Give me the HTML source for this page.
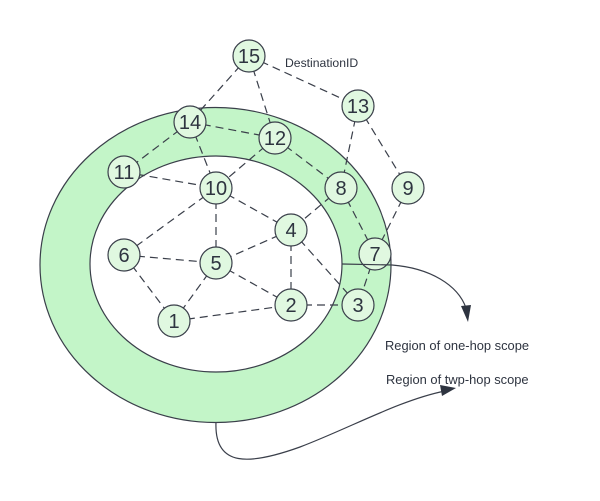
<!DOCTYPE html>
<html><head><meta charset="utf-8"><style>
html,body{margin:0;padding:0;background:#fff;}
svg{display:block;}
text{font-family:"Liberation Sans",sans-serif;fill:#2e3440;}
</style></head><body>
<svg width="600" height="501" viewBox="0 0 600 501" xmlns="http://www.w3.org/2000/svg">
<path fill-rule="evenodd" fill="#c3f5c8" stroke="#3a3f4a" stroke-width="1.2"
 d="M40,265a175.5,157.5 0 1,0 351,0a175.5,157.5 0 1,0 -351,0Z M90,264a126,108 0 1,0 252,0a126,108 0 1,0 -252,0Z"/>
<g stroke="#3a3f4a" stroke-width="1.2" stroke-dasharray="8,5" fill="none">
<line x1="249" y1="56" x2="190" y2="122"/>
<line x1="249" y1="56" x2="275" y2="138"/>
<line x1="249" y1="56" x2="358" y2="106"/>
<line x1="358" y1="106" x2="341" y2="188"/>
<line x1="358" y1="106" x2="408" y2="188"/>
<line x1="190" y1="122" x2="124" y2="172"/>
<line x1="190" y1="122" x2="275" y2="138"/>
<line x1="190" y1="122" x2="216" y2="188"/>
<line x1="275" y1="138" x2="216" y2="188"/>
<line x1="275" y1="138" x2="341" y2="188"/>
<line x1="124" y1="172" x2="216" y2="188"/>
<line x1="216" y1="188" x2="124" y2="255"/>
<line x1="216" y1="188" x2="216" y2="263"/>
<line x1="216" y1="188" x2="291" y2="230"/>
<line x1="341" y1="188" x2="291" y2="230"/>
<line x1="341" y1="188" x2="375" y2="254"/>
<line x1="408" y1="188" x2="375" y2="254"/>
<line x1="375" y1="254" x2="358" y2="305"/>
<line x1="291" y1="230" x2="216" y2="263"/>
<line x1="291" y1="230" x2="291" y2="305"/>
<line x1="291" y1="230" x2="358" y2="305"/>
<line x1="124" y1="255" x2="216" y2="263"/>
<line x1="124" y1="255" x2="174" y2="321"/>
<line x1="216" y1="263" x2="174" y2="321"/>
<line x1="216" y1="263" x2="291" y2="305"/>
<line x1="174" y1="321" x2="291" y2="305"/>
<line x1="291" y1="305" x2="358" y2="305"/>
</g>
<g fill="#e0f8e0" stroke="#3a3f4a" stroke-width="1.2">
<circle cx="249" cy="56" r="16"/>
<circle cx="358" cy="106" r="16"/>
<circle cx="190" cy="122" r="16"/>
<circle cx="275" cy="138" r="16"/>
<circle cx="124" cy="172" r="16"/>
<circle cx="216" cy="188" r="16"/>
<circle cx="341" cy="188" r="16"/>
<circle cx="408" cy="188" r="16"/>
<circle cx="291" cy="230" r="16"/>
<circle cx="375" cy="254" r="16"/>
<circle cx="124" cy="255" r="16"/>
<circle cx="216" cy="263" r="16"/>
<circle cx="291" cy="305" r="16"/>
<circle cx="358" cy="305" r="16"/>
<circle cx="174" cy="321" r="16"/>
</g>
<g font-size="20" text-anchor="middle">
<text x="249" y="63">15</text>
<text x="358" y="113">13</text>
<text x="190" y="129">14</text>
<text x="275" y="145">12</text>
<text x="124" y="179">11</text>
<text x="216" y="195">10</text>
<text x="341" y="195">8</text>
<text x="408" y="195">9</text>
<text x="291" y="237">4</text>
<text x="375" y="261">7</text>
<text x="124" y="262">6</text>
<text x="216" y="270">5</text>
<text x="291" y="312">2</text>
<text x="358" y="312">3</text>
<text x="174" y="328">1</text>
</g>
<g stroke="#3a3f4a" stroke-width="1.2" fill="none">
<path d="M342,264 L392,265 C430,268 458,285 466,308"/>
<path d="M216,422 C214,468 250,465 300,447 C350,428 400,400 445,391"/>
</g>
<polygon points="461,306 471,305 468,322" fill="#2e3440"/>
<polygon points="440,385 456,388 442,396" fill="#2e3440"/>
<text x="285" y="67" font-size="12.2">DestinationID</text>
<text x="385" y="350" font-size="12.9">Region of one-hop scope</text>
<text x="386" y="384" font-size="12.9">Region of twp-hop scope</text>
</svg>
</body></html>
